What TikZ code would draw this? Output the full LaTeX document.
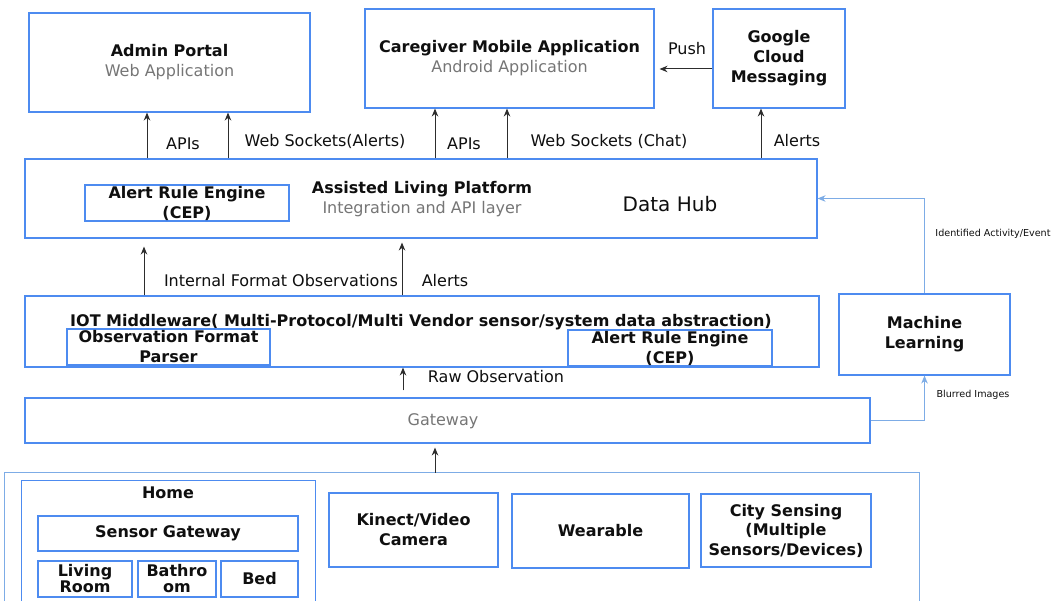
\documentclass[tikz,border=0pt]{standalone}
\usepackage{fontspec}
\setmainfont{DejaVu Sans}
\usetikzlibrary{arrows.meta,calc}
\definecolor{boxblue}{RGB}{77,139,240}
\definecolor{linkblue}{RGB}{125,172,230}
\definecolor{subgray}{RGB}{118,118,118}
\definecolor{arrgray}{RGB}{45,45,45}
\definecolor{txt}{RGB}{15,15,15}
\newcommand\fsmain{\fontsize{16}{20}\selectfont}
\newcommand\fstight{\fontsize{16}{16}\selectfont}
\newcommand\fssmall{\fontsize{9.6}{11}\selectfont}
\begin{document}
\begin{tikzpicture}[x=1pt,y=-1pt,
  box/.style={draw=boxblue,line width=1.1pt,inner sep=0pt,align=center,font=\fsmain,text=txt},
  bbox/.style={box,font=\fsmain\bfseries},
  lbl/.style={inner sep=0pt,font=\fsmain,text=txt},
  slbl/.style={inner sep=0pt,font=\fssmall,text=txt},
  arr/.style={draw=arrgray,line width=1pt,-{Stealth[length=8pt,width=6.5pt]}},
  barr/.style={draw=linkblue,line width=1.1pt,-{Stealth[length=8pt,width=6.5pt]}},
  edge3/.style={draw=boxblue,line width=1.1pt},
  edgeout/.style={draw=linkblue,line width=1pt}
]
\useasboundingbox (0,0) rectangle (1058,601);
\fill[white] (0,0) rectangle (1058,601);

% top row
\node[box,minimum width=281pt,minimum height=99pt] (admin) at (169.5,62.5)
  {\textbf{Admin Portal}\\{\color{subgray}Web Application}};
\node[box,minimum width=289pt,minimum height=99pt] (care) at (509.5,58.5)
  {\textbf{Caregiver Mobile Application}\\{\color{subgray}Android Application}};
\node[bbox,minimum width=132pt,minimum height=99pt] (gcm) at (779,58.5)
  {Google\\Cloud\\Messaging};

% data hub
\node[box,minimum width=792pt,minimum height=79pt] (hub) at (421,198.5) {};
\node[bbox,minimum width=204pt,minimum height=36pt] (are1) at (187,203)
  {Alert Rule Engine\\(CEP)};
\node[lbl,align=center] (alp) at (422,199)
  {\textbf{Assisted Living Platform}\\{\color{subgray}Integration and API layer}};
\node[inner sep=0pt,font=\fontsize{20}{24}\selectfont,text=txt] (dh) at (670,204) {Data Hub};

% middleware
\node[box,minimum width=794pt,minimum height=71pt] (iot) at (422,331.5) {};
\node[lbl,font=\fsmain\bfseries] (iott) at (421,322)
  {IOT Middleware( Multi-Protocol/Multi Vendor sensor/system data abstraction)};
\node[bbox,minimum width=203pt,minimum height=36pt] (ofp) at (168.5,347)
  {Observation Format\\Parser};
\node[bbox,minimum width=204pt,minimum height=36pt] (are2) at (670,348)
  {Alert Rule Engine\\(CEP)};

% machine learning
\node[bbox,minimum width=171pt,minimum height=81pt] (ml) at (924.5,334.5)
  {Machine\\Learning};

% gateway
\node[box,minimum width=845pt,minimum height=45pt] (gw) at (447.5,420.5) {};
\node[lbl,text=subgray] (gwt) at (443,421) {Gateway};

% sources container
\node[minimum width=914pt,minimum height=128pt,inner sep=0pt] (src) at (462,537) {};
\draw[edgeout] (src.south west) -- (src.north west) -- (src.north east) -- (src.south east);
\node[minimum width=293pt,minimum height=120pt,inner sep=0pt] (home) at (168.5,541) {};
\draw[edge3] (home.south west) -- (home.north west) -- (home.north east) -- (home.south east);
\node[lbl,font=\fsmain\bfseries] (homet) at (168,493) {Home};
\node[bbox,minimum width=260pt,minimum height=35pt] (sg) at (168,533.5) {Sensor Gateway};
\node[bbox,font=\fstight\bfseries,minimum width=94pt,minimum height=36pt] (lr) at (85,579) {Living\\Room};
\node[bbox,font=\fstight\bfseries,minimum width=78pt,minimum height=36pt] (bath) at (177,579) {Bathro\\om};
\node[bbox,minimum width=77pt,minimum height=36pt] (bed) at (259.5,579) {Bed};
\node[bbox,minimum width=169pt,minimum height=74pt] (kin) at (413.5,530) {Kinect/Video\\Camera};
\node[bbox,minimum width=177pt,minimum height=74pt] (wear) at (600.5,531) {Wearable};
\node[bbox,font=\fontsize{16}{19.5}\selectfont\bfseries,minimum width=170pt,minimum height=73pt] (city) at (786,530.5)
  {City Sensing\\(Multiple\\Sensors/Devices)};

% x positions of vertical connectors
\coordinate (xa) at (147,0);
\coordinate (xb) at (228,0);
\coordinate (xc) at (435,0);
\coordinate (xd) at (507,0);
\coordinate (xe) at (761,0);
\coordinate (xf) at (144,0);
\coordinate (xg) at (402,0);
\coordinate (xh) at (403,0);
\coordinate (xi) at (435,0);
\coordinate (yp) at (0,69);

% connectors
\draw[arr] (hub.north -| xa) -- (admin.south -| xa);
\draw[arr] (hub.north -| xb) -- (admin.south -| xb);
\draw[arr] (hub.north -| xc) -- (care.south -| xc);
\draw[arr] (hub.north -| xd) -- (care.south -| xd);
\draw[arr] (hub.north -| xe) -- (gcm.south -| xe);
\draw[arr,shorten >=5pt] (gcm.west |- yp) -- (care.east |- yp);
\draw[arr,shorten >=8pt] (iot.north -| xf) -- (hub.south -| xf);
\draw[arr,shorten >=4pt] (iot.north -| xg) -- (hub.south -| xg);
\draw[arr,shorten <=7pt] (gw.north -| xh) -- (iot.south -| xh);
\draw[arr,shorten >=4pt] (src.north -| xi) -- (gw.south -| xi);
\draw[barr] (ml.north) |- (hub.east);
\draw[barr] (gw.east) -| (ml.south);

% labels
\node[lbl] (l1) at (183,144) {APIs};
\node[lbl] (l2) at (325,141) {Web Sockets(Alerts)};
\node[lbl] (l3) at (464,144) {APIs};
\node[lbl] (l4) at (609,141) {Web Sockets (Chat)};
\node[lbl] (l5) at (797,141) {Alerts};
\node[lbl] (l6) at (687,49) {Push};
\node[lbl] (l7) at (281,281) {Internal Format Observations};
\node[lbl] (l8) at (445,281) {Alerts};
\node[lbl] (l9) at (496,377) {Raw Observation};
\node[slbl] (l10) at (993,234) {Identified Activity/Event};
\node[slbl] (l11) at (973,395) {Blurred Images};
\end{tikzpicture}
\end{document}
